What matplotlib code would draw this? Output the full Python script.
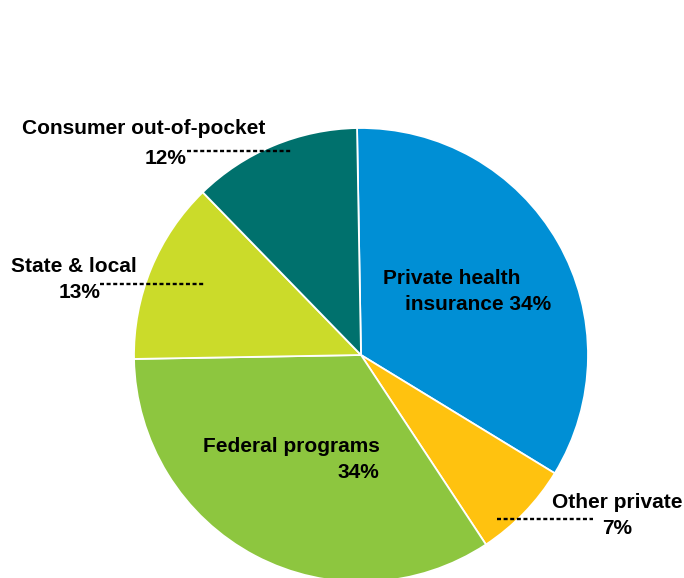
import matplotlib
matplotlib.use("Agg")
import matplotlib.pyplot as plt

# spending shares, clockwise from the top
labels = ["Private health insurance", "Other private", "Federal programs",
          "State & local", "Consumer out-of-pocket"]
shares = [34, 7, 34, 13, 12]
colors = ["#008fd5", "#ffc20f", "#8dc63f", "#cbdb2a", "#00716d"]

W, H = 684, 578
plt.rcParams['font.family'] = ['Liberation Sans', 'DejaVu Sans']

fig = plt.figure(figsize=(W / 100, H / 100), dpi=100)
ax = fig.add_axes([0, 0, 1, 1])

cx, cy, r = 361, H - 355, 227
ax.pie(shares, colors=colors, startangle=91, counterclock=False,
       center=(cx, cy), radius=r,
       wedgeprops=dict(edgecolor="white", linewidth=1.3))
ax.set_xlim(0, W)
ax.set_ylim(0, H)
ax.set_aspect("equal")
ax.axis("off")

fs = 15
def txt(x, y, s, ha="left"):
    ax.text(x, H - y, s, ha=ha, va="center", fontsize=fs,
            fontweight="bold", color="black")

def leader(x0, x1, y):
    ax.plot([x0, x1], [H - y, H - y], color="black", lw=1.7,
            linestyle=(0, (1.7, 1.1)), solid_capstyle="butt")

txt(22, 129, "Consumer out-of-pocket")
txt(187, 158, f"{shares[4]}%", ha="right")
leader(187, 292, 151)

txt(11, 267, "State & local")
txt(100, 293, f"{shares[3]}%", ha="right")
leader(100, 205, 284)

txt(383, 279, "Private health")
txt(405, 304, f"insurance {shares[0]}%")

txt(203, 447, "Federal programs")
txt(379, 472, f"{shares[2]}%", ha="right")

txt(552, 503, "Other private")
txt(632, 528, f"{shares[1]}%", ha="right")
leader(497, 593, 519)

fig.savefig("out.png", dpi=100)
